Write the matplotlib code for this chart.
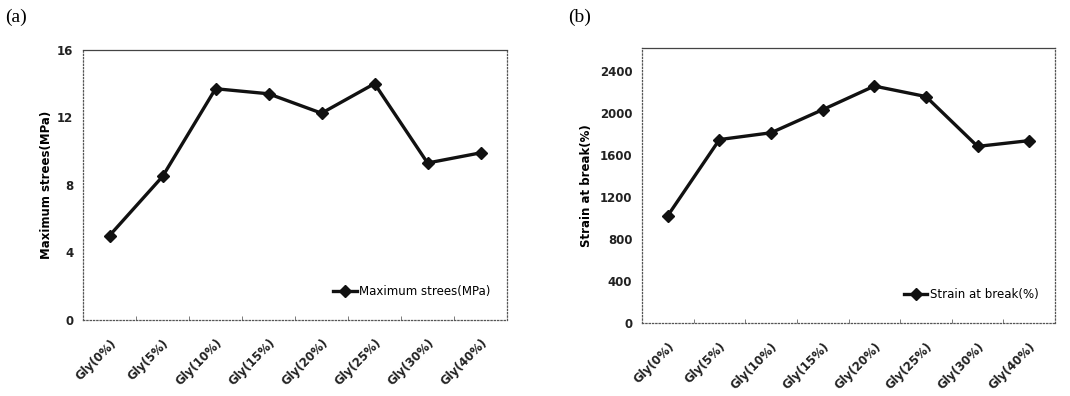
import matplotlib
matplotlib.use("Agg")
import matplotlib.pyplot as plt

categories = ["Gly(0%)", "Gly(5%)", "Gly(10%)", "Gly(15%)",
              "Gly(20%)", "Gly(25%)", "Gly(30%)", "Gly(40%)"]
max_stress = [5.0, 8.5, 13.7, 13.4, 12.25, 14.0, 9.3, 9.9]
strain_break = [1025, 1750, 1815, 2035, 2260, 2160, 1685, 1740]

stress_ticks = [0, 4, 8, 12, 16]
strain_ticks = [0, 400, 800, 1200, 1600, 2000, 2400]

plt.rcParams['font.family'] = ['DejaVu Sans']

fig = plt.figure(figsize=(10.7, 3.96), dpi=100)
ax1 = fig.add_axes([0.0776, 0.192, 0.3963, 0.682])
ax2 = fig.add_axes([0.600, 0.184, 0.386, 0.694])


def style_panel(ax, values, yticks, ylim, ylabel, legend_label, lpad):
    x = list(range(len(categories)))
    ax.plot(x, values, color="#111111", lw=2.4, marker="D", ms=6.5,
            label=legend_label)
    ax.set_xlim(-0.5, len(categories) - 0.5)
    ax.set_ylim(0, ylim)
    ax.set_yticks(yticks)
    ax.set_yticklabels([str(t) for t in yticks], fontsize=8.5,
                       fontweight="bold", color="#222222")
    ax.set_xticks(x)
    ax.set_xticklabels(categories, rotation=45, ha="right",
                       rotation_mode="anchor", fontsize=8.5,
                       fontweight="bold", color="#222222")
    ax.tick_params(axis="x", length=0, pad=12)
    ax.tick_params(axis="y", length=0, pad=7)
    # small marks between categories like excel
    ax.set_xticks([i + 0.5 for i in range(len(categories) - 1)], minor=True)
    ax.tick_params(axis="x", which="minor", direction="in", length=3,
                   color="#666666")
    for s in ax.spines.values():
        s.set_color("#555555")
        s.set_linewidth(0.9)
        s.set_linestyle(":")
    ax.spines["top"].set_linestyle("-")
    ax.spines["top"].set_color("#444444")
    ax.set_ylabel(ylabel, fontsize=8.5, fontweight="bold", labelpad=lpad)
    ax.legend(loc="lower right", bbox_to_anchor=(0.98, 0.05), frameon=False,
              fontsize=8.5, handlelength=2.0, handletextpad=0.2,
              borderaxespad=0.3)


style_panel(ax1, max_stress, stress_ticks, 16, "Maximum strees(MPa)",
            "Maximum strees(MPa)", 3)
style_panel(ax2, strain_break, strain_ticks, 2620, "Strain at break(%)",
            "Strain at break(%)", 5)

fig.text(0.005, 0.955, "(a)", fontsize=14, family="Liberation Serif",
         ha="left", va="center")
fig.text(0.531, 0.955, "(b)", fontsize=14, family="Liberation Serif",
         ha="left", va="center")

fig.savefig("out.png", dpi=100)
